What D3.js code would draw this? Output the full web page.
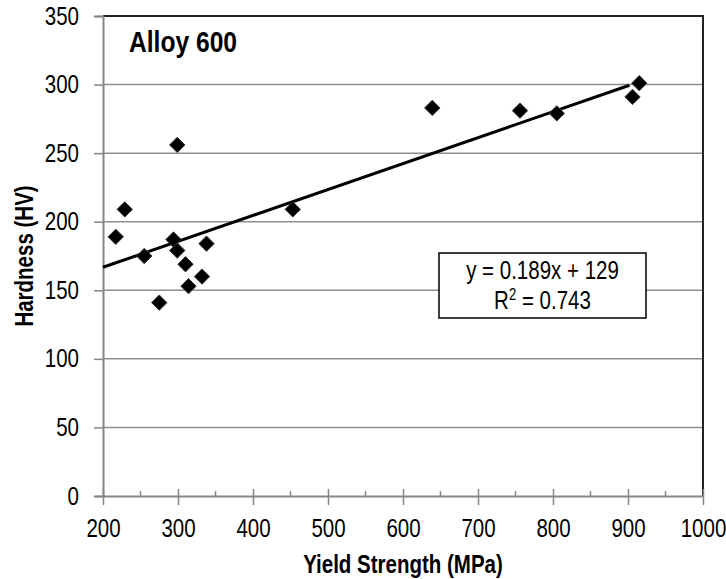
<!DOCTYPE html>
<html>
<head>
<meta charset="utf-8">
<script src="https://cdn.jsdelivr.net/npm/d3@7"></script>
<style>
  body { margin: 0; background: #fff; }
  text { font-family: "Liberation Sans", Arial, sans-serif; fill: #000; }
</style>
</head>
<body>
<script>
// data
const yieldStrength = [217, 229, 255, 275, 294, 299, 299, 310, 314, 332, 338, 453, 639, 756, 805, 906, 915]
const hardness      = [189, 209, 175, 141, 187, 179, 256, 169, 153, 160, 184, 209, 283, 281, 279, 291, 301]
const xTicks = [200, 300, 400, 500, 600, 700, 800, 900, 1000]
const yTicks = [0, 50, 100, 150, 200, 250, 300, 350]
const trendSlope = 0.189, trendIntercept = 129
const trendRange = [200, 902]
const equationLine = "y = 0.189x + 129"

const W = 726, H = 579
const NARROW = 0.82   // no Arial Narrow here, so squeeze Liberation Sans
let margin = { top: 16, right: 23, bottom: 83, left: 103 },
width = W - margin.left - margin.right,
height = H - margin.top - margin.bottom

let svg = d3.select("body").append("svg")
    .attr("width", W)
    .attr("height", H)

let g = svg.append("g")
    .attr("transform", "translate(" + margin.left + "," + margin.top + ")")

let x = d3.scaleLinear().domain([200, 1000]).range([0, width])
let y = d3.scaleLinear().domain([0, 350]).range([height, 0])

function squeeze(sel) {
    sel.each(function () {
        let t = d3.select(this)
        let tx = +t.attr("x") || 0
        t.attr("x", tx / NARROW).attr("transform", "scale(" + NARROW + ",1)")
    })
}

// gridlines
g.selectAll(".grid")
    .data(yTicks.filter(d => d > 0 && d < 350))
    .enter().append("line")
    .attr("x1", 0).attr("x2", width)
    .attr("y1", d => y(d)).attr("y2", d => y(d))
    .attr("stroke", "#8f8f8f").attr("stroke-width", 1.5)

// top and right border
g.append("path")
    .attr("d", "M0," + y(350) + "H" + width + "V" + height)
    .attr("fill", "none").attr("stroke", "#222").attr("stroke-width", 2)

// y axis
let yAxis = g.append("g")
    .call(d3.axisLeft(y).tickValues(yTicks).tickSize(9).tickPadding(15))
yAxis.select(".domain").attr("stroke", "#868686").attr("stroke-width", 2)
yAxis.selectAll(".tick line").attr("stroke", "#868686").attr("stroke-width", 1.5)
yAxis.selectAll("text").attr("font-size", 25).attr("font-family", null).call(squeeze)

// x axis: major ticks cross the axis, minor ticks on the inside
let xAxis = g.append("g")
    .attr("transform", "translate(0," + height + ")")
    .call(d3.axisBottom(x).tickValues(xTicks).tickFormat(d3.format("d"))
        .tickSize(9).tickSizeOuter(0).tickPadding(14))
xAxis.select(".domain").attr("stroke", "#868686").attr("stroke-width", 2)
xAxis.selectAll(".tick line").attr("y1", -7).attr("stroke", "#868686").attr("stroke-width", 1.5)
xAxis.selectAll("text").attr("font-size", 25).attr("font-family", null).call(squeeze)

g.selectAll(".minor")
    .data(d3.range(250, 1000, 100))
    .enter().append("line")
    .attr("x1", d => x(d)).attr("x2", d => x(d))
    .attr("y1", height - 5).attr("y2", height)
    .attr("stroke", "#868686").attr("stroke-width", 1.5)

// trendline
g.append("line")
    .attr("x1", x(trendRange[0])).attr("y1", y(trendSlope * trendRange[0] + trendIntercept))
    .attr("x2", x(trendRange[1])).attr("y2", y(trendSlope * trendRange[1] + trendIntercept))
    .attr("stroke", "#000").attr("stroke-width", 3)

// points
g.selectAll(".pt")
    .data(yieldStrength.map((d, i) => [d, hardness[i]]))
    .enter().append("path")
    .attr("d", d3.symbol(d3.symbolDiamond2, 150))
    .attr("transform", d => "translate(" + x(d[0]) + "," + y(d[1]) + ")")
    .attr("fill", "#000").attr("stroke", "#333").attr("stroke-width", 1)

// equation box
let bx = 439 - margin.left, by = 253 - margin.top
g.append("rect")
    .attr("x", bx).attr("y", by).attr("width", 207).attr("height", 65)
    .attr("fill", "#fff").attr("stroke", "#000").attr("stroke-width", 1.5)
let eq = g.append("g").attr("transform", "translate(" + (bx + 103.5) + "," + by + ") scale(" + NARROW + ",1)")
    .append("text").attr("text-anchor", "middle").attr("font-size", 25)
eq.append("tspan").attr("x", 0).attr("y", 26).text(equationLine)
let l2 = eq.append("tspan").attr("x", 0).attr("y", 56)
l2.append("tspan").text("R")
l2.append("tspan").attr("font-size", 16).attr("dy", -9).text("2")
l2.append("tspan").attr("dy", 9).text(" = 0.743")

// titles
svg.append("text")
    .attr("transform", "translate(129,52) scale(" + NARROW + ",1)")
    .attr("font-size", 30).attr("font-weight", "bold")
    .text("Alloy 600")

svg.append("text")
    .attr("transform", "translate(" + (margin.left + width / 2) + ",573) scale(" + NARROW + ",1)")
    .attr("text-anchor", "middle").attr("font-size", 25).attr("font-weight", "bold")
    .text("Yield Strength (MPa)")

svg.append("text")
    .attr("transform", "translate(33," + (margin.top + height / 2) + ") rotate(-90) scale(" + NARROW + ",1)")
    .attr("text-anchor", "middle").attr("font-size", 25).attr("font-weight", "bold")
    .text("Hardness (HV)")
</script>
</body>
</html>
